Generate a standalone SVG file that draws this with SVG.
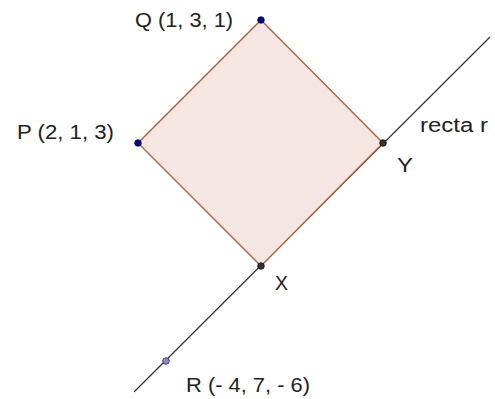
<svg xmlns="http://www.w3.org/2000/svg" width="495" height="399" viewBox="0 0 495 399">
<style>
text{font-family:"Liberation Sans",Arial,sans-serif;font-size:19.5px;fill:#222}
.pt{stroke:#111;stroke-width:0.8}
</style>
<rect width="495" height="399" fill="#fff"/>
<g id="connectors">
<line x1="134" y1="392" x2="490" y2="37" stroke="#333" stroke-width="1.2"/>
</g>
<g id="square">
<polygon points="261,20 383,143 261,266 138,143" fill="#f6e6e1" stroke="#a8633f" stroke-width="1.4"/>
</g>
<g id="Q"><circle class="pt" cx="261" cy="20" r="3.3" fill="#0000a0"/><text x="135" y="27" textLength="98" lengthAdjust="spacingAndGlyphs">Q (1, 3, 1)</text></g>
<g id="P"><circle class="pt" cx="138" cy="143" r="3.3" fill="#0000a0"/><text x="17" y="139" textLength="97" lengthAdjust="spacingAndGlyphs">P (2, 1, 3)</text></g>
<g id="Y"><circle class="pt" cx="383" cy="143" r="3.3" fill="#333"/><text x="397" y="172" textLength="16" lengthAdjust="spacingAndGlyphs">Y</text></g>
<g id="X"><circle class="pt" cx="261" cy="266" r="3.3" fill="#333"/><text x="275" y="290" textLength="13" lengthAdjust="spacingAndGlyphs">X</text></g>
<g id="R"><circle cx="166" cy="361" r="3.3" fill="#8585e0" stroke="#333" stroke-width="0.8"/><text x="186" y="392" textLength="124" lengthAdjust="spacingAndGlyphs">R (- 4, 7, - 6)</text></g>
<g id="r"><text x="420" y="132" textLength="68" lengthAdjust="spacingAndGlyphs">recta r</text></g>
</svg>
